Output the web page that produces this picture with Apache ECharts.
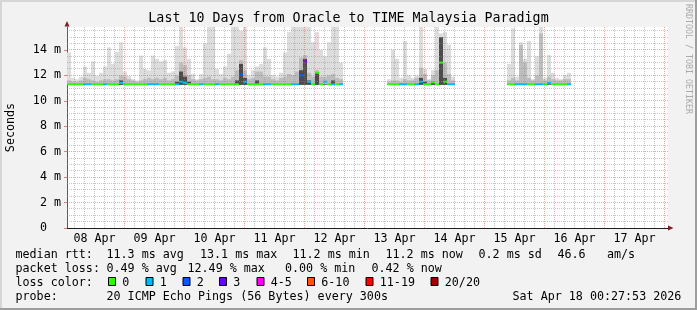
<!DOCTYPE html>
<html><head><meta charset="utf-8">
<script src="https://cdn.jsdelivr.net/npm/echarts@6/dist/echarts.min.js"></script>
<style>html,body{margin:0;padding:0;background:#f2f2f2}#c{width:697px;height:310px}</style>
</head><body><div id="c"></div>
<script>
// ---------------- data ----------------
const titleText = 'Last 10 Days from Oracle to TIME Malaysia Paradigm';
const dayLabels = ['08 Apr','09 Apr','10 Apr','11 Apr','12 Apr','13 Apr','14 Apr','15 Apr','16 Apr','17 Apr'];
const dayLabelHours = [12,36,60,84,108,132,156,180,204,228];   // noon of each day, hours since 08 Apr 00:00
const xMinHour = 1.0, xMaxHour = 241.4;
const yMaxValue = 15.8;     // ms
const yLabelValues = [0,2,4,6,8,10,12,14];
const firstBinHour = 1.0, binHours = 1.6;
const smokeFloor = 11.25;   // ms

// median rtt per 1.6 h bin (ms); null = no data
const medianRtt = [
 11.3,11.3,11.3,11.3,11.3,11.3,11.3,11.3,11.3,11.3,
 11.3,11.3,11.3,11.4,11.3,11.3,11.3,11.3,11.3,11.3,
 11.3,11.3,11.3,11.3,11.3,11.3,11.3,11.3,11.5,11.4,
 11.3,11.3,11.3,11.3,11.3,11.3,11.3,11.3,11.3,11.3,
 11.3,11.3,11.3,12.1,11.5,11.3,11.3,11.3,11.3,11.3,
 11.3,11.3,11.3,11.3,11.3,11.3,11.3,11.3,12.0,13.1,
 11.5,11.3,12.2,11.3,11.5,11.3,11.3,11.3,11.3,
 null,null,null,null,null,null,null,null,null,null,null,
 11.3,11.3,11.3,11.3,11.3,11.3,11.3,11.3,11.5,11.3,11.3,11.45,11.3,13.0,11.5,11.3,11.3,
 null,null,null,null,null,null,null,null,null,null,null,null,null,
 11.3,11.3,11.3,11.3,11.3,11.3,11.3,11.3,11.3,11.3,11.4,11.3,11.3,11.3,11.3,11.3
];
// lost pings (of 20) per bin
const lossCount = [
 0,0,0,0,1,1,0,0,0,1,
 0,0,0,1,0,0,0,0,0,0,
 1,1,1,0,0,0,0,1,1,1,
 0,0,0,1,0,0,0,1,0,0,
 0,0,0,2,1,0,0,0,0,1,
 1,0,0,0,0,0,1,1,2,3,
 1,0,0,0,1,0,1,0,1,
 null,null,null,null,null,null,null,null,null,null,null,
 0,0,0,1,1,0,0,1,1,0,0,0,0,0,0,1,1,
 null,null,null,null,null,null,null,null,null,null,null,null,null,
 0,0,1,1,1,0,0,1,1,0,1,0,0,0,0,1
];
// highest ping (top of light smoke)
const pingMax = [
 13.8,11.8,11.7,11.9,12.7,12.2,13.1,11.95,12.2,12.7,
 14.2,12.9,13.85,14.6,12.3,11.95,11.7,11.6,13.55,12.5,
 12.4,13.55,13.3,13.1,13.2,12.2,12.3,14.3,15.8,14.2,
 13.3,12.1,11.7,12.1,14.5,15.8,15.8,12.5,12.1,12.7,
 13.7,15.8,15.8,15.5,15.8,12.0,12.4,12.7,12.9,14.2,
 13.3,12.0,11.9,12.2,13.8,15.4,15.8,15.8,15.8,15.8,
 15.8,14.6,15.4,14.0,13.5,14.6,15.8,15.8,13.0,
 null,null,null,null,null,null,null,null,null,null,null,
 11.7,14.0,13.3,11.8,14.7,12.0,11.8,12.0,15.8,12.5,11.7,12.4,15.8,15.3,15.4,14.4,11.9,
 null,null,null,null,null,null,null,null,null,null,null,null,null,
 12.9,15.7,11.9,14.6,13.3,14.7,11.7,13.5,15.8,11.8,13.6,12.2,11.8,11.7,12.0,12.2
];
// upper part of the ping spread (top of medium smoke)
const pingUpper = [
 11.6,11.5,11.5,11.6,11.8,11.7,11.6,11.5,11.6,11.7,
 11.7,11.6,11.7,12.0,11.9,11.7,11.6,11.5,11.6,11.7,
 11.8,11.7,11.8,11.7,11.8,11.6,11.7,12.0,13.0,12.8,
 12.0,11.7,11.6,11.7,11.8,11.9,11.7,11.7,11.6,11.8,
 11.7,11.9,12.4,13.2,12.4,11.7,11.8,12.3,12.3,11.9,
 11.9,11.7,11.6,11.8,11.9,12.1,12.0,12.3,13.4,13.6,
 12.2,11.9,12.4,11.9,11.9,12.0,12.1,11.8,11.7,
 null,null,null,null,null,null,null,null,null,null,null,
 11.5,11.6,11.6,11.5,11.7,11.6,11.6,11.8,12.6,12.1,11.6,12.0,12.4,14.2,13.0,12.1,11.6,
 null,null,null,null,null,null,null,null,null,null,null,null,null,
 11.6,11.8,11.6,14.4,13.0,11.8,11.6,12.0,15.3,11.6,11.9,11.7,11.6,11.6,11.7,11.7
];
// dense core of the ping spread (top of dark smoke)
const pingDense = [
 11.3,11.3,11.3,11.3,11.3,11.3,11.3,11.3,11.3,11.3,
 11.3,11.3,11.3,11.6,11.3,11.3,11.3,11.3,11.3,11.3,
 11.3,11.3,11.3,11.3,11.3,11.3,11.3,11.5,12.3,11.9,
 11.5,11.3,11.3,11.3,11.3,11.3,11.3,11.3,11.3,11.3,
 11.3,11.3,11.6,12.9,11.8,11.3,11.3,11.6,11.3,11.3,
 11.3,11.3,11.3,11.3,11.3,11.3,11.3,11.3,12.4,13.3,
 11.6,11.3,12.2,11.3,11.3,11.3,11.6,11.3,11.3,
 null,null,null,null,null,null,null,null,null,null,null,
 11.3,11.3,11.3,11.3,11.3,11.3,11.3,11.3,11.8,11.5,11.3,11.5,11.3,15.0,11.8,11.3,11.3,
 null,null,null,null,null,null,null,null,null,null,null,null,null,
 11.3,11.3,11.3,11.3,11.3,11.3,11.3,11.3,11.3,11.3,11.3,11.3,11.3,11.3,11.3,11.3
];

const lossLabels = ['0','1','2','3','4-5','6-10','11-19','20/20'];
const lossColors = ['#26ff00','#00b8ff','#0059ff','#6a00ff','#ff00ff','#ff5500','#ff0000','#a10000'];
const rttStats  = ['median rtt:','11.3 ms avg','13.1 ms max','11.2 ms min','11.2 ms now','0.2 ms sd','46.6','am/s'];
const lossStats = ['packet loss:','0.49 % avg','12.49 % max','0.00 % min','0.42 % now'];
const probeText = ['probe:','20 ICMP Echo Pings (56 Bytes) every 300s','Sat Apr 18 00:27:53 2026'];

// ---------------- helpers ----------------
function lossClass(n){ if(n<=3) return n; if(n<=5) return 4; if(n<=10) return 5; if(n<=19) return 6; return 7; }

const smokeData = [];
for (let i = 0; i < medianRtt.length; i++) {
  if (medianRtt[i] == null) continue;
  const t0 = firstBinHour + i * binHours;
  smokeData.push([t0, t0 + binHours, medianRtt[i], pingMax[i], pingUpper[i], pingDense[i], lossCount[i]]);
}
const vGrid = []; for (let h = 4; h <= 240; h += 4) vGrid.push([h, 0]);
const hGrid = []; for (let v = 0.5; v <= 15.5; v += 0.5) hGrid.push([xMinHour, v]);

const FONT = '"DejaVu Sans Mono", monospace';
const minorCol = 'rgba(143,143,143,0.5)', majorCol = 'rgba(222,80,80,0.5)';

function renderSmoke(params, api) {
  const t0 = api.value(0), t1 = api.value(1);
  const med = api.value(2), hi = api.value(3), mid = api.value(4), dark = api.value(5), loss = api.value(6);
  const pa = api.coord([t0, smokeFloor]), pb = api.coord([t1, smokeFloor]);
  const x0 = pa[0], w = pb[0] - pa[0], yBase = pa[1];
  const ch = [];
  function band(top, color) {
    const y = api.coord([t0, top])[1];
    if (y < yBase - 0.3) ch.push({type:'rect', shape:{x:x0, y:y, width:w, height:yBase - y}, style:{fill:color}});
  }
  band(hi, '#dddddd'); band(mid, '#bdbdbd'); band(dark, '#4c4c4c');
  const ym = api.coord([t0, med])[1];
  ch.push({type:'rect', shape:{x:x0, y:ym - 1, width:w, height:2}, style:{fill:lossColors[lossClass(loss)]}});
  return {type:'group', children:ch};
}
function renderVGrid(params, api) {
  const h = api.value(0);
  const p0 = api.coord([h, 0]), p1 = api.coord([h, yMaxValue]);
  const x = Math.round(p0[0] - 0.5) + 0.5;
  return {type:'line', shape:{x1:x, y1:p0[1], x2:x, y2:p1[1]},
          style:{stroke: h % 24 === 0 ? majorCol : minorCol, lineWidth:1, lineDash:[1,1]}};
}
function renderHGrid(params, api) {
  const v = api.value(1);
  const p0 = api.coord([xMinHour, v]), p1 = api.coord([xMaxHour, v]);
  const y = Math.round(p0[1] - 0.5) + 0.5;
  return {type:'line', shape:{x1:p0[0], y1:y, x2:p1[0], y2:y},
          style:{stroke: v % 2 === 0 ? majorCol : minorCol, lineWidth:1, lineDash:[1,1]}};
}

// ---------------- legend graphics ----------------
const graphics = [];
function txt(x, y, s, size, extra) {
  graphics.push(Object.assign({type:'text', x:x, y:y, silent:true,
    style:{text:s, font: size + 'px ' + FONT, fill:'#000', align:'left', verticalAlign:'middle'}}, extra || {}));
}
txt(348.5, 19, titleText, 13.3, {style:{text:titleText, font:'13.3px ' + FONT, fill:'#000', align:'center', verticalAlign:'middle'}});
graphics.push({type:'text', x:10.5, y:127.5, rotation:Math.PI/2, silent:true,
  style:{text:'Seconds', font:'11.7px ' + FONT, fill:'#000', align:'center', verticalAlign:'middle'}});
graphics.push({type:'text', x:688, y:59, rotation:-Math.PI/2, silent:true,
  style:{text:'RRDTOOL / TOBI OETIKER', font:'8.3px ' + FONT, fill:'#aaaaaa', align:'center', verticalAlign:'middle'}});
const rttX = [15.5, 106.5, 200, 292.5, 385.5, 478.5, 557.5, 607];
rttStats.forEach((s, k) => txt(rttX[k], 254.5, s, 11.7));
const lossX = [15.5, 106.5, 187.5, 285, 371.5];
lossStats.forEach((s, k) => txt(lossX[k], 268.5, s, 11.7));
txt(15.5, 282.5, 'loss color:', 11.7);
const swX = [108, 145.5, 182.5, 219, 256.5, 307, 365.5, 430.5];
lossLabels.forEach((s, k) => {
  graphics.push({type:'rect', silent:true, shape:{x:swX[k] + 0.5, y:277.5, width:7, height:8},
    style:{fill:lossColors[k], stroke:'#000', lineWidth:1}});
  txt(swX[k] + 14.3, 282.5, s, 11.7);
});
txt(15.5, 296.5, probeText[0], 11.7);
txt(106.5, 296.5, probeText[1], 11.7);
txt(512.5, 296.5, probeText[2], 11.7);
// axis arrows
graphics.push({type:'polygon', silent:true, shape:{points:[[668,225.5],[668,230.5],[673.5,228]]}, style:{fill:'#801f1f'}});
graphics.push({type:'polygon', silent:true, shape:{points:[[64.5,26.5],[69.5,26.5],[67,21]]}, style:{fill:'#801f1f'}});
// frame shading
graphics.push({type:'rect', silent:true, shape:{x:0,y:0,width:697,height:2}, style:{fill:'#d6d6d6'}});
graphics.push({type:'rect', silent:true, shape:{x:0,y:0,width:2,height:310}, style:{fill:'#d6d6d6'}});
graphics.push({type:'rect', silent:true, shape:{x:0,y:308,width:697,height:2}, style:{fill:'#9e9e9e'}});
graphics.push({type:'rect', silent:true, shape:{x:695,y:0,width:2,height:310}, style:{fill:'#9e9e9e'}});

// ---------------- chart ----------------
const chart = echarts.init(document.getElementById('c'), null, {renderer:'canvas'});
chart.setOption({
  animation:false,
  backgroundColor:'#f2f2f2',
  grid:{left:67, top:27, width:601, height:201, show:true, backgroundColor:'#ffffff', borderWidth:0},
  xAxis:{type:'value', min:xMinHour, max:xMaxHour,
    axisLine:{show:true, lineStyle:{color:'#1f1f1f', width:1}},
    axisTick:{show:false}, splitLine:{show:false},
    axisLabel:{customValues:dayLabelHours, margin:5, color:'#000', fontFamily:FONT, fontSize:11.7,
      formatter:(v) => dayLabels[Math.round((v - dayLabelHours[0]) / 24)] || ''}},
  yAxis:{type:'value', min:0, max:yMaxValue,
    axisLine:{show:true, lineStyle:{color:'#5a5a5a', width:1}},
    axisTick:{show:true, customValues:yLabelValues, length:3, inside:false, lineStyle:{color:'#de8080'}},
    splitLine:{show:false},
    axisLabel:{customValues:yLabelValues, margin:6, color:'#000', fontFamily:FONT, fontSize:11.7,
      formatter:(v) => v === 0 ? '0  ' : v + ' m'}},
  series:[
    {type:'custom', name:'smoke', renderItem:renderSmoke, data:smokeData, z:2, silent:true, clip:true,
     encode:{x:[0,1], y:[2,3]}},
    {type:'custom', name:'vgrid', renderItem:renderVGrid, data:vGrid, z:5, silent:true, encode:{x:0, y:1}},
    {type:'custom', name:'hgrid', renderItem:renderHGrid, data:hGrid, z:5, silent:true, encode:{x:0, y:1}}
  ],
  graphic:graphics
});
</script>
</body></html>
